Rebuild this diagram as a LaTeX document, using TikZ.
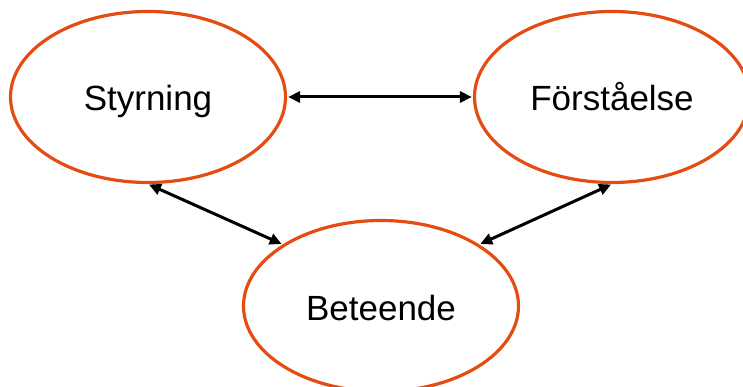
\documentclass[tikz,border=0pt]{standalone}
\usepackage{fontspec}
\setmainfont{Liberation Sans}
\usepackage{tikz}
\usetikzlibrary{positioning}
\usetikzlibrary{arrows.meta}
\usetikzlibrary{shapes}
\definecolor{ringorange}{RGB}{228,76,18}
\tikzset{ring/.style={ellipse, draw=ringorange, line width=3.2pt, minimum width=275pt, minimum height=171pt, inner sep=0pt, text height=28pt, text depth=0pt, font=\fontsize{35}{42}\selectfont}}
\tikzset{link/.style={{Triangle[length=12pt,width=11pt]}-{Triangle[length=12pt,width=11pt]}, line width=3pt, shorten <=1pt, shorten >=1pt}}
\begin{document}
\begin{tikzpicture}[x=1pt, y=-1pt]
\useasboundingbox (0,0) rectangle (743,387);
\clip (0,0) rectangle (743,387);
\node[ring] (sty) at (148,97) {Styrning};
\node[ring] (frs) at (612,97) {Förståelse};
\node[ring] (bet) at (381,306) {Beteende};

\draw[link] (sty) -- (frs);
\draw[link] (sty.south) -- (bet.north west);
\draw[link] (frs.south) -- (bet.north east);
\end{tikzpicture}
\end{document}
